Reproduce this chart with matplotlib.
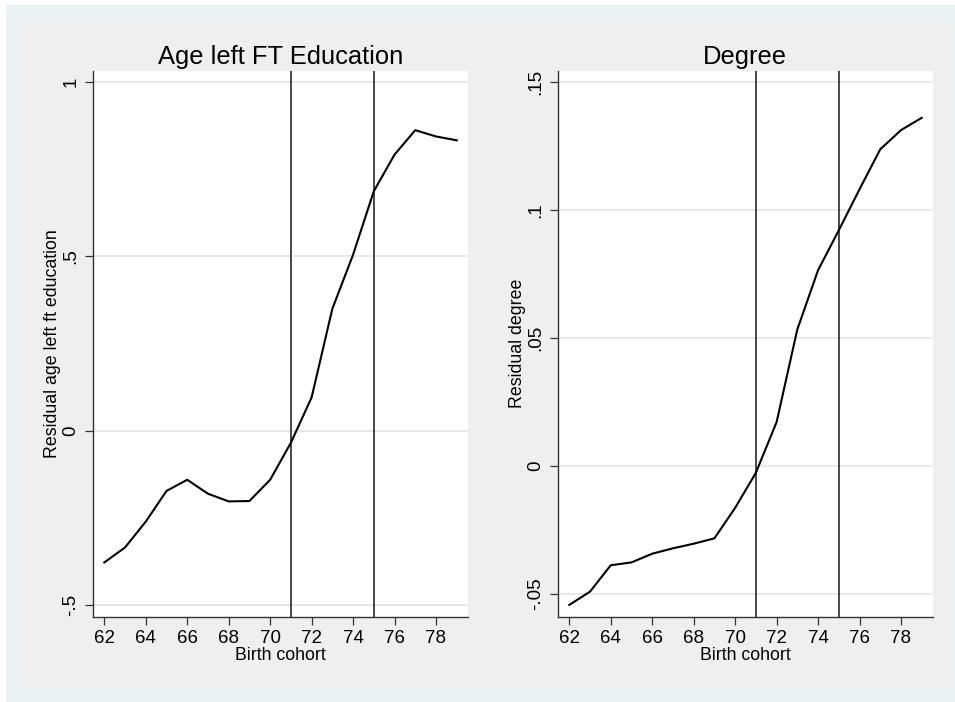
import matplotlib
matplotlib.use("Agg")
import matplotlib.pyplot as plt
from matplotlib.patches import Rectangle

# data
cohort = [62, 63, 64, 65, 66, 67, 68, 69, 70, 71, 72, 73, 74, 75, 76, 77, 78, 79]
resid_age_left = [-0.378, -0.335, -0.261, -0.173, -0.141, -0.181, -0.203, -0.202, -0.141,
                  -0.035, 0.095, 0.349, 0.504, 0.686, 0.791, 0.861, 0.843, 0.832]
resid_degree = [-0.0543, -0.0491, -0.0388, -0.0377, -0.0343, -0.0322, -0.0304, -0.0283, -0.0164,
                -0.0027, 0.0171, 0.0533, 0.0764, 0.0920, 0.1080, 0.1236, 0.1311, 0.1359]
reform_years = [71, 75]
xticks = [62, 64, 66, 68, 70, 72, 74, 76, 78]
age_yticks = [-0.5, 0, 0.5, 1]
age_yticklabels = ["-.5", "0", ".5", "1"]
deg_yticks = [-0.05, 0, 0.05, 0.1, 0.15]
deg_yticklabels = ["-.05", "0", ".05", ".1", ".15"]

plt.rcParams['font.family'] = ['Liberation Sans', 'DejaVu Sans']

W, H = 955, 702
fig = plt.figure(figsize=(W / 100, H / 100), dpi=100)
fig.patch.set_facecolor('white')

# stata-like backgrounds
fig.patches.append(Rectangle((6 / W, 0), 1, (H - 5) / H, transform=fig.transFigure,
                             facecolor='#EAF2F3', edgecolor='none', zorder=-2))
fig.patches.append(Rectangle((22 / W, 15 / H), (950 - 22) / W, (687 - 22) / H,
                             transform=fig.transFigure, facecolor='#EFEFEF',
                             edgecolor='none', zorder=-1))


def panel(rect, y, title, ylabel, ylim, yticks, yticklabels):
    ax = fig.add_axes(rect)
    ax.set_facecolor('white')
    for yy in yticks:
        ax.axhline(yy, color='#E6E6E6', lw=1.3, zorder=0)
    for xr in reform_years:
        ax.axvline(xr, color='#3a3a3a', lw=1.3, zorder=2)
    ax.plot(cohort, y, color='black', lw=1.5, zorder=3)
    ax.set_xlim(61.44, 79.53)
    ax.set_ylim(*ylim)
    ax.set_xticks(xticks)
    ax.set_yticks(yticks)
    ax.set_yticklabels(yticklabels, rotation=90, va='center')
    ax.tick_params(direction='out', length=5.5, width=0.9, color='#333333',
                   labelsize=13.5, pad=4)
    for s in ['top', 'right']:
        ax.spines[s].set_visible(False)
    for s in ['left', 'bottom']:
        ax.spines[s].set_color('#333333')
        ax.spines[s].set_linewidth(1.0)
    ax.set_title(title, fontsize=18.4, pad=5)
    ax.set_xlabel("Birth cohort", fontsize=12.8, labelpad=0)
    ax.set_ylabel(ylabel, fontsize=12.8, labelpad=1)
    return ax


ax1 = panel([92.7 / W, 85.3 / H, 375 / W, 546 / H], resid_age_left,
            "Age left FT Education", "Residual age left ft education",
            (-0.5335, 1.0315), age_yticks, age_yticklabels)
ax2 = panel([557.7 / W, 85.3 / H, 375 / W, 546 / H], resid_degree,
            "Degree", "Residual degree",
            (-0.0589, 0.1543), deg_yticks, deg_yticklabels)

fig.savefig("out.png", dpi=100, facecolor=fig.get_facecolor())
